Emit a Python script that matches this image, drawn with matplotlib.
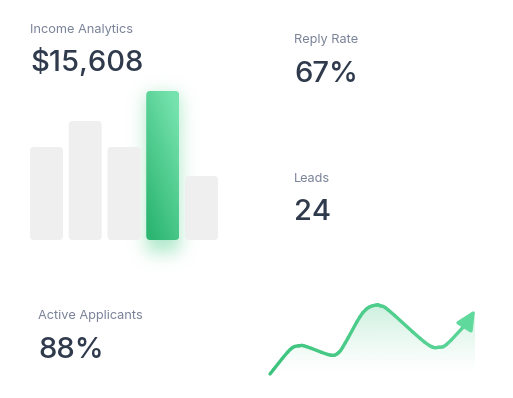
import numpy as np
import matplotlib.pyplot as plt
from matplotlib.patches import FancyBboxPatch, Polygon, FancyArrowPatch
from matplotlib.collections import LineCollection
from matplotlib.path import Path
from matplotlib.colors import to_rgb
from math import erf

# ---- data ----
bar_heights = [93, 119, 93, 149, 64]
highlight = 3

trend_x = [0, 20, 30, 36.7, 60, 68.3, 75, 90, 98.3, 106.7, 110, 118.3,
           150, 161.7, 168.3, 176.7, 196.7, 205]
trend_y = [0, 24.3, 28.3, 27.3, 19, 21.2, 30.7, 57.3, 66.3, 69, 68.3, 64,
           35.7, 27.3, 26.7, 29.7, 50.7, 64]

stats = [
    ("Income Analytics", "$15,608", 30, 28, 61),
    ("Reply Rate", "67%", 294, 39, 72),
    ("Leads", "24", 294, 177, 210),
    ("Active Applicants", "88%", 38, 315, 348),
]

W, H = 513, 398
fig = plt.figure(figsize=(W / 100, H / 100), dpi=100)
fig.patch.set_facecolor("white")

bg = fig.add_axes([0, 0, 1, 1], zorder=0)
bg.set_xlim(0, W)
bg.set_ylim(0, H)
bg.axis("off")

# ---- bar chart ----
bax = fig.add_axes([27.1 / W, (H - 240) / H, 193.75 / W, 160 / H], zorder=2)
bax.set_xlim(-0.5, 4.5)
bax.set_ylim(0, 160)
bax.axis("off")
bax.patch.set_alpha(0)

bars = bax.bar(range(len(bar_heights)), bar_heights, width=0.85, alpha=0)
aspect = 38.75
green_patch = None
for i, b in enumerate(bars):
    x0, w, h = b.get_x(), b.get_width(), b.get_height()
    p = FancyBboxPatch((x0, 0), w, h,
                       boxstyle="round,pad=0,rounding_size=%f" % (4 / aspect),
                       mutation_aspect=aspect, lw=0,
                       facecolor="#efefef" if i != highlight else "none")
    bax.add_patch(p)
    if i == highlight:
        green_patch = p
        gb = b

# gradient fill on the highlighted bar
dark = np.array(to_rgb("#2db672"))
light = np.array(to_rgb("#76e3ae"))
yy, xx = np.mgrid[0:1:150j, 0:1:40j]
t = np.clip(0.75 * yy + 0.45 * xx - 0.1, 0, 1)
img = dark + (light - dark) * t[..., None]
im = bax.imshow(img, origin="lower", aspect="auto",
                extent=(gb.get_x(), gb.get_x() + gb.get_width(), 0, gb.get_height()),
                zorder=3)
im.set_clip_path(green_patch)
bax.set_xlim(-0.5, 4.5)
bax.set_ylim(0, 160)

# soft glow behind the highlighted bar
fig.canvas.draw()
ext = gb.get_window_extent()
gx0, gx1, gy0, gy1 = ext.x0, ext.x1, ext.y0 - 12, ext.y1 - 4
s = 12.0
verf = np.vectorize(erf)
px = np.arange(W) + 0.5
py = np.arange(H) + 0.5
gxv = 0.5 * (verf((px - gx0) / s) - verf((px - gx1) / s))
gyv = 0.5 * (verf((py - gy0) / s) - verf((py - gy1) / s))
glow = np.outer(gyv, gxv)
gimg = np.zeros((H, W, 4))
gimg[..., :3] = to_rgb("#74d9a3")
gimg[..., 3] = 0.6 * glow
bg.imshow(gimg, origin="lower", extent=(0, W, 0, H), aspect="auto")
bg.set_xlim(0, W)
bg.set_ylim(0, H)

# ---- trend line ----
lax = fig.add_axes([270 / W, (H - 374) / H, 205 / W, 70 / H], zorder=2)
lax.set_xlim(0, 205)
lax.set_ylim(0, 70)
lax.axis("off")
lax.patch.set_alpha(0)

# smooth path through the points (Catmull-Rom as cubic Bezier)
P = np.column_stack([trend_x[:-1], trend_y[:-1]])
Pe = np.vstack([P[0], P, P[-1]])
verts = [P[0]]
codes = [Path.MOVETO]
for i in range(1, len(Pe) - 2):
    p0, p1, p2, p3 = Pe[i - 1], Pe[i], Pe[i + 1], Pe[i + 2]
    verts += [p1 + (p2 - p0) / 6, p2 - (p3 - p1) / 6, p2]
    codes += [Path.CURVE4] * 3
curve = Path(verts, codes)
smooth = curve.to_polygons(closed_only=False)[0]
smooth = np.vstack([smooth, [trend_x[-1], trend_y[-1]]])

area = Polygon(np.vstack([smooth, [[trend_x[-1], -3], [trend_x[0], -3]]]),
               closed=True, facecolor="none", edgecolor="none")
lax.add_patch(area)
ay = np.linspace(0, 1, 100)[:, None]
fill = np.zeros((100, 2, 4))
fill[..., :3] = to_rgb("#4cc98a")
fill[..., 3] = np.clip((ay - 0.05) / 0.95, 0, 1) ** 1.2 * 0.28
fim = lax.imshow(fill, origin="lower", aspect="auto", extent=(0, 205, -3, 70), zorder=1)
fim.set_clip_path(area)
lax.set_xlim(0, 205)
lax.set_ylim(0, 70)

sp = smooth[:-1]
segs = np.stack([sp[:-1], sp[1:]], axis=1)
c0 = np.array(to_rgb("#3ec47e"))
c1 = np.array(to_rgb("#5cd69a"))
f = np.clip(sp[:-1, 0] / 205, 0, 1)[:, None]
lc = LineCollection(segs, colors=c0 + (c1 - c0) * f, linewidths=2.4,
                    capstyle="round", joinstyle="round", zorder=3)
lc.set_clip_on(False)
lax.add_collection(lc)

arrow = FancyArrowPatch((trend_x[-2], trend_y[-2]), (trend_x[-1], trend_y[-1]),
                        arrowstyle="-|>,head_length=1.15,head_width=0.55",
                        mutation_scale=10, color="#5fd99c", lw=2.4,
                        shrinkA=0, shrinkB=0, zorder=4, clip_on=False)
lax.add_patch(arrow)

# ---- text ----
font = "Inter"
for label, value, x, ly, vy in stats:
    fig.text(x / W, 1 - (ly + 1.5) / H, label, fontsize=9.2, color="#7a8398",
             family=font, va="center", ha="left")
    fig.text(x / W, 1 - (vy + 2) / H, value, fontsize=21, color="#2f3a4c",
             family=font, weight="medium", va="center", ha="left")

fig.savefig("out.png", dpi=100, facecolor="white")
